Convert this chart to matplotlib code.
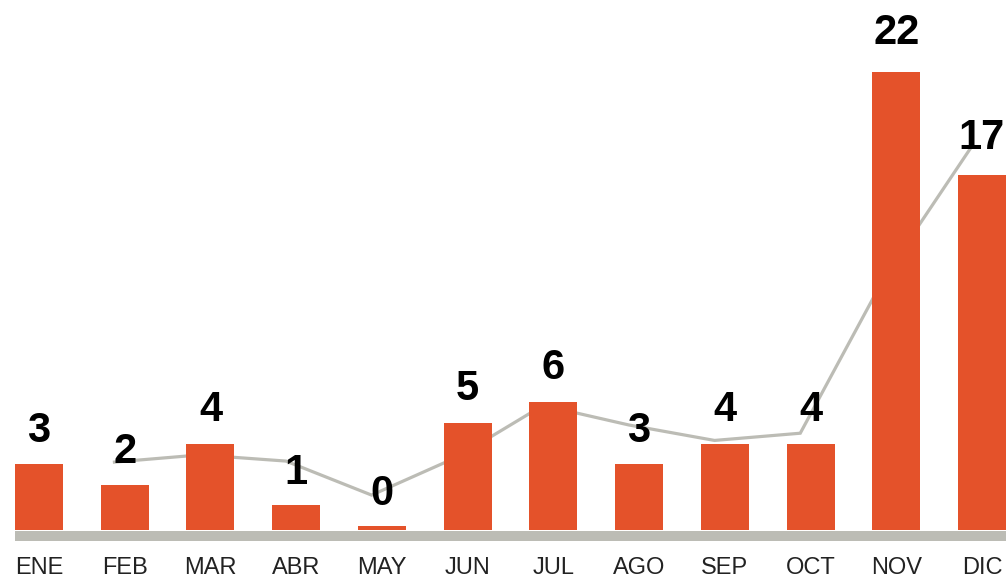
import matplotlib
matplotlib.use("Agg")
import matplotlib.pyplot as plt
import numpy as np

plt.rcParams["font.family"] = ["Liberation Sans", "DejaVu Sans"]

# datos
meses = ["ENE", "FEB", "MAR", "ABR", "MAY", "JUN", "JUL", "AGO", "SEP", "OCT", "NOV", "DIC"]
valores = [3, 2, 4, 1, 0, 5, 6, 3, 4, 4, 22, 17]
# linea gris (tendencia), empieza en FEB
tendencia = [3.1, 3.45, 3.15, 1.5, 3.35, 5.85, 4.9, 4.15, 4.5, 12.2, 18.4]

naranja = "#E4522A"
gris = "#BCBCB5"

fig = plt.figure(figsize=(10.08, 5.81), dpi=100)
ax = fig.add_axes([15 / 1008, 50 / 581, 991 / 1008, 531 / 581])

x = np.arange(len(meses))
base = -0.2
ax.bar(x, np.array(valores) + 0.2, bottom=base, width=0.56, color=naranja, zorder=3)
ax.plot(x[1:] - 0.12, tendencia, color=gris, lw=2.3, zorder=2, solid_joinstyle="miter")

for xi, v in zip(x, valores):
    ax.annotate(str(v), (xi, v * 1.015), xytext=(0, 9), textcoords="offset points",
                ha="center", va="bottom", fontsize=30, fontweight="bold",
                color="black", zorder=5)

ax.set_xlim(-0.28, 11.28)
ax.set_ylim(-0.24, 25.5)
ax.tick_params(axis="x", length=0, pad=15, labelsize=17, labelcolor="#222222")
ax.set_xticks(x)
ax.set_xticklabels(meses)
ax.set_yticks([])

for s in ["top", "right", "left"]:
    ax.spines[s].set_visible(False)
ax.spines["bottom"].set_color(gris)
ax.spines["bottom"].set_linewidth(7.2)
ax.spines["bottom"].set_position(("outward", 3.6))
ax.spines["bottom"].set_capstyle("butt")

fig.savefig("out.png", dpi=100)
